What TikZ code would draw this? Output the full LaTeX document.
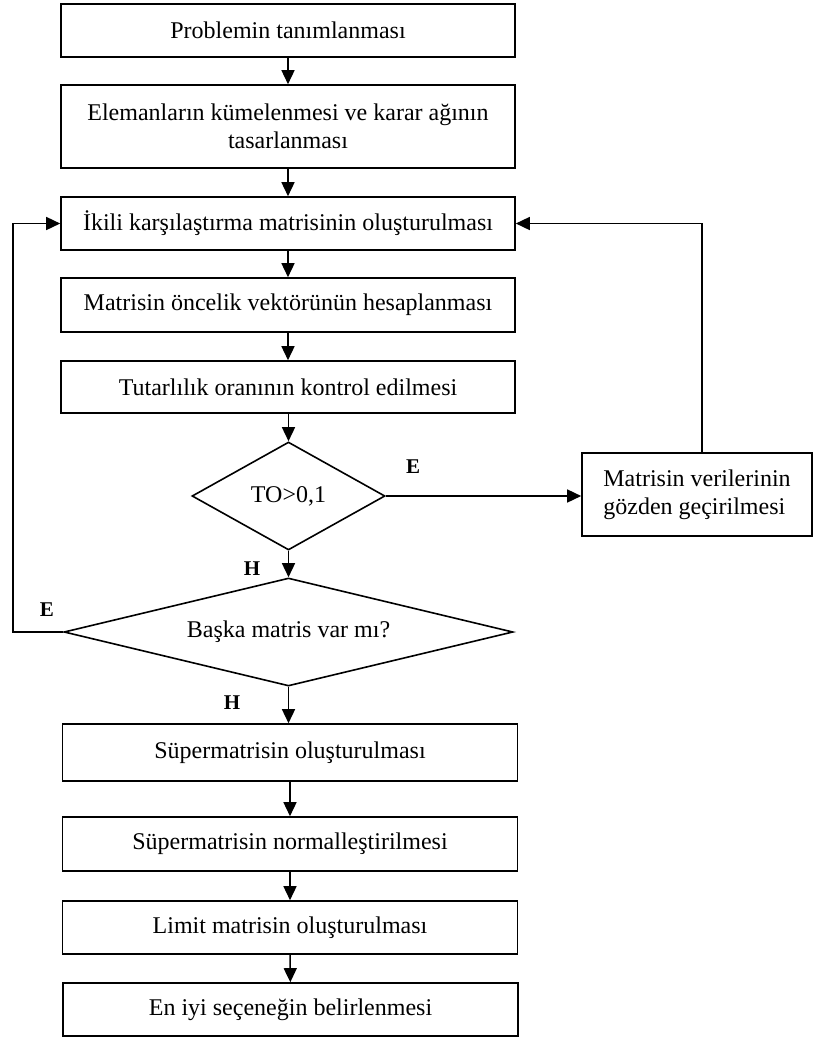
\documentclass[tikz,border=0pt]{standalone}
\usepackage{fontspec}
\setmainfont{Liberation Serif}
\usetikzlibrary{arrows.meta,shapes.geometric}
\begin{document}
\begin{tikzpicture}[x=1pt,y=-1pt,
  box/.style={draw,line width=1.6pt,rectangle,inner sep=0pt,minimum width=454pt,
    font=\fontsize{24}{28}\selectfont,align=center},
  dia/.style={draw,line width=1.6pt,diamond,inner sep=0pt,
    font=\fontsize{24}{28}\selectfont},
  lbl/.style={font=\fontsize{21}{21}\selectfont\bfseries,inner sep=0pt},
  arr/.style={line width=1.5pt,-{Triangle[length=14pt,width=13pt]}},
  ln/.style={line width=1.5pt}]
\useasboundingbox (0,0) rectangle (814,1037);
\node[box,minimum height=53pt] (b1) at (288,30.5) {Problemin tanımlanması};
\node[box,minimum height=83pt] (b2) at (288,126.5) {Elemanların kümelenmesi ve karar ağının\\tasarlanması};
\node[box,minimum height=53pt] (b3) at (288,223.5) {İkili karşılaştırma matrisinin oluşturulması};
\node[box,minimum height=54pt] (b4) at (288,305) {Matrisin öncelik vektörünün hesaplanması};
\node[box,minimum height=52pt] (b5) at (288,387) {Tutarlılık oranının kontrol edilmesi};
\node[dia,minimum width=193pt,minimum height=108pt] (d1) at (288.5,496) {TO>0,1};
\node[box,minimum width=230pt,minimum height=83pt,align=left] (rb) at (697,494.5) {Matrisin verilerinin\\gözden geçirilmesi};
\node[dia,aspect=4.16,minimum width=449pt,minimum height=108pt] (d2) at (288.5,632) {Başka matris var mı?};
\node[box,minimum width=455pt,minimum height=57pt] (s1) at (290,752.5) {Süpermatrisin oluşturulması};
\node[box,minimum width=455pt,minimum height=54pt] (s2) at (290,844) {Süpermatrisin normalleştirilmesi};
\node[box,minimum width=455pt,minimum height=53pt] (s3) at (290,927.5) {Limit matrisin oluşturulması};
\node[box,minimum width=455pt,minimum height=53pt] (s4) at (290.5,1009.5) {En iyi seçeneğin belirlenmesi};
\node[lbl] (e1) at (413,467) {E};
\node[lbl] (h1) at (252,569) {H};
\node[lbl] (e2) at (47,610) {E};
\node[lbl] (h2) at (232,703) {H};
\coordinate (lc) at (13,632);
\coordinate (rc) at (702,453);
\draw[arr] (b1) -- (b2);
\draw[arr] (b2) -- (b3);
\draw[arr] (b3) -- (b4);
\draw[arr] (b4) -- (b5);
\draw[arr] (d1.north |- b5.south) -- (d1.north);
\draw[arr] (d1.east) -- (d1.east -| rb.west);
\draw[arr] (rc) |- (b3.east);
\draw[arr] (d1.south) -- (d2.north);
\draw[arr] (d2.west) -- (lc) |- (b3.west);
\draw[arr] (d2.south) -- (d2.south |- s1.north);
\draw[arr] (s1) -- (s2);
\draw[arr] (s2) -- (s3);
\draw[arr] (s3) -- (s4);
\end{tikzpicture}
\end{document}
